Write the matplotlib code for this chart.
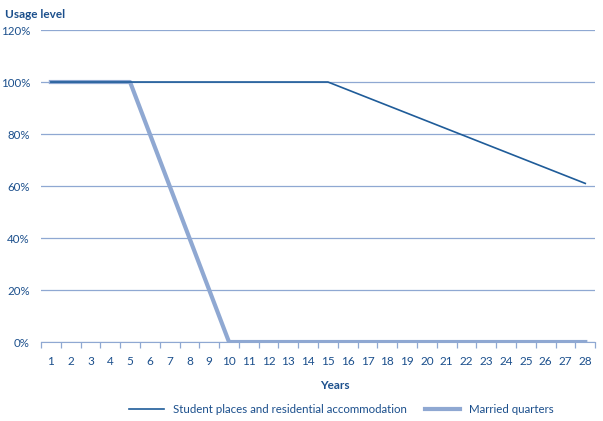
import matplotlib.pyplot as plt
import numpy as np

years = list(range(1, 29))
student = [100] * 15 + [97, 94, 91, 88, 85, 82, 79, 76, 73, 70, 67, 64, 61]
married = [100] * 5 + [80, 60, 40, 20, 0] + [0] * 18
yticks = [0, 20, 40, 60, 80, 100, 120]

dark = '#1f5c99'
light = '#8fa8d2'
textc = '#1b4f8c'

plt.rcParams['font.family'] = ['Lato', 'DejaVu Sans']

fig = plt.figure(figsize=(6.03, 4.21), dpi=100)
ax = fig.add_axes([0.068, 0.1876, 0.919, 0.7411])

for y in yticks:
    ax.axhline(y, color=light, lw=0.9, zorder=1)

ax.plot(years, student, color=dark, lw=1.2, zorder=3, label='Student places and residential accommodation')
ax.plot(years, married, color=light, lw=3, zorder=2, label='Married quarters')

ax.set_xlim(0.5, 28.5)
ax.set_ylim(0, 120)
ax.set_yticks(yticks)
ax.set_yticklabels([f'{v}%' for v in yticks])
ax.set_xticks(years)
ax.set_xticks(np.arange(0.5, 29, 1), minor=True)
ax.tick_params(axis='x', which='major', length=0, pad=10, labelsize=8.5, labelcolor=textc)
ax.tick_params(axis='x', which='minor', length=4, color=light, width=0.9)
ax.tick_params(axis='y', length=0, pad=8, labelsize=8.3, labelcolor=textc)
for s in ['top', 'right', 'left']:
    ax.spines[s].set_visible(False)
ax.spines['bottom'].set_color(light)

fig.text(0.008, 0.965, 'Usage level', fontsize=8.5, fontweight='bold', color=textc, va='center')
fig.text(0.556, 0.085, 'Years', fontsize=8.5, fontweight='bold', color=textc, ha='center', va='center')
fig.legend(loc='center', bbox_to_anchor=(0.566, 0.027), ncol=2, frameon=False,
           fontsize=8.3, labelcolor=textc, handlelength=3, columnspacing=1.6)

fig.savefig('out.png', dpi=100)
